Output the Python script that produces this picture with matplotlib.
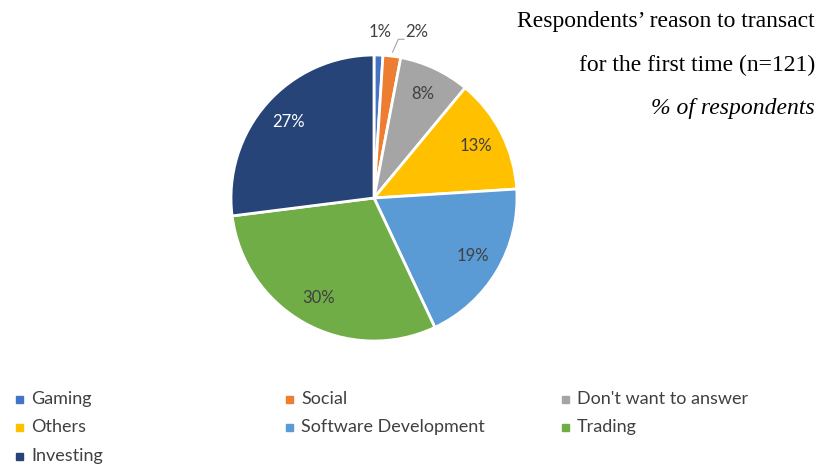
import numpy as np
import matplotlib.pyplot as plt
from matplotlib.patches import Rectangle

# Survey breakdown (n=121), share of respondents in %
categories = ["Gaming", "Social", "Don't want to answer", "Others",
              "Software Development", "Trading", "Investing"]
shares = [1, 2, 8, 13, 19, 30, 27]
colors = ["#4472C4", "#ED7D31", "#A5A5A5", "#FFC000",
          "#5B9BD5", "#70AD47", "#264478"]
label_colors = ["#404040", "#404040", "#404040", "#404040",
                "#404040", "#404040", "white"]

W, H = 821, 465
fig = plt.figure(figsize=(W / 100, H / 100), dpi=100)

# pie axes: centre (374, 198) px, radius 143 px
cx, cy, r = 374, 198, 143
ax = fig.add_axes([(cx - r) / W, (H - cy - r) / H, 2 * r / W, 2 * r / H])
wedges, _ = ax.pie(shares, colors=colors, startangle=90, counterclock=False,
                   radius=1, wedgeprops=dict(edgecolor="white", linewidth=2))
ax.set_xlim(-1, 1)
ax.set_ylim(-1, 1)
ax.set_aspect("equal")
ax.axis("off")

font = "Lato"
for i, (w, s) in enumerate(zip(wedges, shares)):
    if s < 5:
        continue
    ang = np.deg2rad((w.theta1 + w.theta2) / 2)
    ax.text(0.8 * np.cos(ang), 0.8 * np.sin(ang), f"{s}%", ha="center",
            va="center", fontsize=12, color=label_colors[i], family=font)

# small slices get outside labels
ax.text(0.04, 1.16, f"{shares[0]}%", ha="center", va="center", fontsize=12,
        color="#404040", family=font)
ax.text(0.22, 1.16, f"{shares[1]}%", ha="left", va="center", fontsize=12,
        color="#404040", family=font)
ax.plot([0.13, 0.17, 0.21], [1.02, 1.11, 1.11], color="#A5A5A5", lw=0.8,
        clip_on=False)

# title block
serif = "Liberation Serif"
fig.text(815 / W, 1 - 22 / H, "Respondents\u2019 reason to transact", ha="right",
         va="center", fontsize=17, family=serif)
fig.text(815 / W, 1 - 65 / H, "for the first time (n=121)", ha="right",
         va="center", fontsize=17, family=serif)
fig.text(815 / W, 1 - 108 / H, "% of respondents", ha="right", va="center",
         fontsize=17, family=serif, style="italic")

# legend, three columns
col_x = [16, 286, 562]
row_y = [399, 427, 456]
for i, (name, c) in enumerate(zip(categories, colors)):
    x = col_x[i % 3]
    y = row_y[i // 3]
    fig.patches.append(Rectangle((x / W, (H - y - 3.5) / H), 7 / W, 7 / H,
                                 color=c, transform=fig.transFigure))
    fig.text((x + 15) / W, 1 - y / H, name, ha="left", va="center",
             fontsize=13, color="#404040", family=font)

fig.savefig("out.png", dpi=100, facecolor="white")
